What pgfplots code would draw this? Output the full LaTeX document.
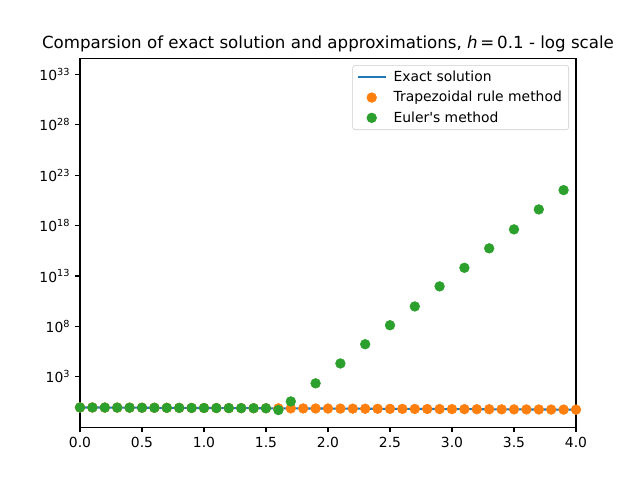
\documentclass[border=0pt]{standalone}
\usepackage{fontspec}
\setmainfont{DejaVu Sans}
\usepackage{pgfplots}
\usepackage{pgfplotstable}
\pgfplotsset{compat=1.18}
\definecolor{c0}{HTML}{1F77B4}
\definecolor{c1}{HTML}{FF7F0E}
\definecolor{c2}{HTML}{2CA02C}
\newcommand{\pw}[1]{10\textsuperscript{#1}}

% x, exact solution, trapezoidal rule
\pgfplotstableread{
x    exact   trap
0.0  0.912   0.912
0.1  0.9005  0.9005
0.2  0.8892  0.8892
0.3  0.8780  0.8780
0.4  0.8670  0.8670
0.5  0.8561  0.8561
0.6  0.8453  0.8453
0.7  0.8346  0.8346
0.8  0.8241  0.8241
0.9  0.8138  0.8138
1.0  0.8035  0.8035
1.1  0.7934  0.7934
1.2  0.7834  0.7834
1.3  0.7736  0.7736
1.4  0.7638  0.7638
1.5  0.7542  0.7542
1.6  0.7447  0.7447
1.7  0.7353  0.7353
1.8  0.7261  0.7261
1.9  0.7169  0.7169
2.0  0.7079  0.7079
2.1  0.6990  0.6990
2.2  0.6902  0.6902
2.3  0.6815  0.6815
2.4  0.6729  0.6729
2.5  0.6644  0.6644
2.6  0.6561  0.6561
2.7  0.6478  0.6478
2.8  0.6396  0.6396
2.9  0.6316  0.6316
3.0  0.6237  0.6237
3.1  0.6158  0.6158
3.2  0.6081  0.6081
3.3  0.6004  0.6004
3.4  0.5929  0.5929
3.5  0.5854  0.5854
3.6  0.5780  0.5780
3.7  0.5707  0.5707
3.8  0.5635  0.5635
3.9  0.5564  0.5564
4.0  0.5495  0.5495
}\exacttab

% Euler's method (negative values from 1.8 on are not shown on a log axis)
\pgfplotstableread{
x    y
0.0  0.912
0.1  0.9005
0.2  0.8892
0.3  0.8780
0.4  0.8670
0.5  0.8561
0.6  0.8453
0.7  0.8346
0.8  0.8241
0.9  0.8138
1.0  0.8035
1.1  0.7934
1.2  0.7834
1.3  0.7736
1.4  0.7638
1.5  0.7542
1.6  0.50
1.7  3.6
1.9  224
2.1  2.1e4
2.3  1.7e6
2.5  1.3e8
2.7  9.5e9
2.9  9.3e11
3.1  6.5e13
3.3  5.5e15
3.5  4.2e17
3.7  4.0e19
3.9  3.3e21
}\eulertab

\begin{document}
\begin{tikzpicture}
\path[use as bounding box] (-57.6pt,-38.016pt) rectangle (403.2pt,307.584pt);
\begin{axis}[
  at={(0,0)}, anchor=south west,
  scale only axis,
  width=357.12pt, height=265.68pt,
  ymode=log,
  xmin=0, xmax=4,
  ymin=1e-2, ymax=4e34,
  xtick={0,0.5,...,4},
  xticklabel style={/pgf/number format/fixed, /pgf/number format/fixed zerofill, /pgf/number format/precision=1},
  /pgf/number format/assume math mode=true,
  ytick={1e3,1e8,1e13,1e18,1e23,1e28,1e33},
  yticklabels={\pw{3},\pw{8},\pw{13},\pw{18},\pw{23},\pw{28},\pw{33}},
  yminorticks=false,
  tick align=outside,
  xtick pos=bottom, ytick pos=left,
  major tick length=3.5pt,
  every tick/.style={black, line width=0.8pt},
  axis line style={line width=0.8pt},
  tick label style={font=\fontsize{10}{12}\selectfont},
  title={Comparsion of exact solution and approximations, \textit{h}\,=\,0.1 - log scale},
  title style={font=\fontsize{12}{14}\selectfont, yshift=-5pt},
  legend cell align=left,
  legend image code/.code={\draw[mark repeat=2, mark phase=2, #1] plot coordinates {(0pt,0pt) (10pt,0pt) (20pt,0pt)};},
  legend style={at={(1,1)}, anchor=north east, xshift=-5pt, yshift=-5pt,
    draw=black!20, rounded corners=2pt, font=\fontsize{10}{12}\selectfont,
    row sep=1.5pt, column sep=3pt, inner xsep=3pt, inner ysep=2pt},
]
\addplot[c0, line width=1.5pt, no markers] table[x=x, y=exact] {\exacttab};
\addlegendentry{Exact solution}
\addplot[only marks, mark=*, mark size=3.5pt, c1] table[x=x, y=trap] {\exacttab};
\addlegendentry{Trapezoidal rule method}
\addplot[only marks, mark=*, mark size=3.5pt, c2] table[x=x, y=y] {\eulertab};
\addlegendentry{Euler\textquotesingle s method}
\end{axis}
\end{tikzpicture}
\end{document}
